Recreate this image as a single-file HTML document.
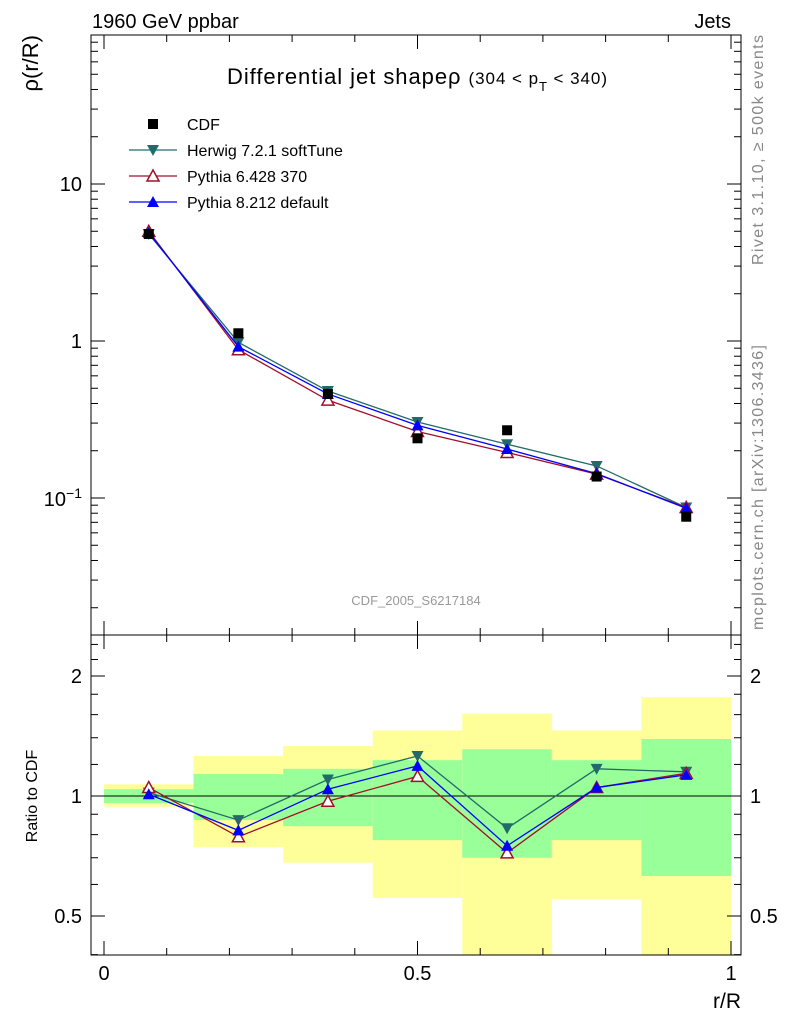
<!DOCTYPE html>
<html><head><meta charset="utf-8"><style>
body{margin:0;background:#fff}
svg text{font-family:"Liberation Sans",sans-serif}
</style></head><body>
<svg id="c" width="786" height="1024" xmlns="http://www.w3.org/2000/svg"></svg>
<script>
const xCenters=[0.0714,0.2143,0.3571,0.5,0.6429,0.7857,0.9286];
const cdf=[4.8,1.12,0.46,0.24,0.27,0.137,0.076];
const herwig=[4.8,0.98,0.48,0.305,0.22,0.16,0.087];
const py6=[5.0,0.88,0.42,0.265,0.195,0.142,0.087];
const py8=[4.9,0.92,0.46,0.29,0.205,0.143,0.086];
const rHerwig=[1.02,0.87,1.10,1.26,0.83,1.17,1.15];
const rPy6=[1.05,0.79,0.97,1.12,0.72,1.05,1.14];
const rPy8=[1.01,0.82,1.04,1.19,0.75,1.05,1.13];
const yelLo=[0.94,0.745,0.68,0.555,0.35,0.55,0.35];
const yelHi=[1.07,1.26,1.335,1.46,1.61,1.46,1.77];
const grnLo=[0.96,0.87,0.84,0.775,0.70,0.775,0.63];
const grnHi=[1.04,1.135,1.17,1.23,1.31,1.23,1.39];
const binEdges=[0,1/7,2/7,3/7,4/7,5/7,6/7,1];
const xTicks=[0,0.5,1];

const S=document.getElementById('c'),NS='http://www.w3.org/2000/svg';
function el(t,a,txt){const e=document.createElementNS(NS,t);for(const k in a)e.setAttribute(k,a[k]);if(txt!==undefined)e.textContent=txt;S.appendChild(e);return e;}
const X=v=>104+v*627;
const Y=v=>184-(Math.log10(v)-1)*157;
const R=v=>{const y=796-Math.log2(v)*120;return Math.max(636,Math.min(955,y));};
const L=91,Rr=741,T=35,M=635,B=955;

for(let i=0;i<7;i++){
 let e=el('rect',{x:X(binEdges[i]),y:R(yelHi[i]),width:X(binEdges[i+1])-X(binEdges[i]),height:R(yelLo[i])-R(yelHi[i]),fill:'#ffff99'});
 
 e=el('rect',{x:X(binEdges[i]),y:R(grnHi[i]),width:X(binEdges[i+1])-X(binEdges[i]),height:R(grnLo[i])-R(grnHi[i]),fill:'#99ff99'});
 
}
el('line',{x1:L,x2:Rr,y1:R(1),y2:R(1),stroke:'#000','stroke-width':1});

let f=el('rect',{x:L,y:T,width:Rr-L,height:M-T,fill:'none',stroke:'#000'});

f=el('rect',{x:L,y:M,width:Rr-L,height:B-M,fill:'none',stroke:'#000'});


for(let d=-2;d<=1;d++)for(let m=1;m<10;m++){const v=m*Math.pow(10,d);const y=Y(v);if(y<T||y>M)continue;const len=m==1?14:7;
 el('line',{x1:L,x2:L+len,y1:y,y2:y,stroke:'#000'});el('line',{x1:Rr,x2:Rr-len,y1:y,y2:y,stroke:'#000'});}
for(const v of [0.4,0.5,0.6,0.7,0.8,0.9,1,2,1.2,1.4,1.6,1.8,2.2,2.4]){const y=R(v);if(y<=636||y>=955)continue;const len=[0.5,1,2].includes(v)?14:7;
 el('line',{x1:L,x2:L+len,y1:y,y2:y,stroke:'#000'});el('line',{x1:Rr,x2:Rr-len,y1:y,y2:y,stroke:'#000'});}
for(let i=0;i<=10;i++){const v=i/10,x=X(v),len=i%5==0?14:7;
 el('line',{x1:x,x2:x,y1:M,y2:M+len,stroke:'#000'});el('line',{x1:x,x2:x,y1:M,y2:M-len,stroke:'#000'});
 el('line',{x1:x,x2:x,y1:B,y2:B-len,stroke:'#000'});el('line',{x1:x,x2:x,y1:T,y2:T+len,stroke:'#000'});}
for(const v of xTicks){const t=el('text',{x:X(v),y:980,'font-size':20,'text-anchor':'middle'},String(v));}

el('text',{x:82,y:191,'font-size':20,'text-anchor':'end'},'10');
el('text',{x:82,y:348,'font-size':20,'text-anchor':'end'},'1');
let t=el('text',{x:82,y:506,'font-size':20,'text-anchor':'end'});t.innerHTML='10<tspan dy="-8" font-size="14">−1</tspan>';
for(const [v,s] of [[2,'2'],[1,'1'],[0.5,'0.5']]){el('text',{x:82,y:R(v)+7,'font-size':20,'text-anchor':'end'},s);el('text',{x:750,y:R(v)+7,'font-size':20},s);}

t=el('text',{x:92,y:28,'font-size':20},'1960 GeV ppbar');
el('text',{x:731,y:28,'font-size':20,'text-anchor':'end'},'Jets');
t=el('text',{transform:'translate(38,35) rotate(-90)','font-size':22,'text-anchor':'end'},'ρ(r/R)');
t=el('text',{transform:'translate(37,796) rotate(-90)','font-size':16,'text-anchor':'middle'},'Ratio to CDF');
t=el('text',{x:741,y:1008,'font-size':21,'text-anchor':'end'},'r/R');
t=el('text',{x:227,y:84,'font-size':22,textLength:380});t.innerHTML='Differential jet shapeρ <tspan font-size="17">(304 &lt; p</tspan><tspan font-size="13" dy="7">T</tspan><tspan font-size="17" dy="-7"> &lt; 340)</tspan>';

el('text',{transform:'translate(763,265) rotate(-90)','font-size':16,fill:'#888',textLength:230},'Rivet 3.1.10, ≥ 500k events');
el('text',{transform:'translate(763,630) rotate(-90)','font-size':16,fill:'#888',textLength:285},'mcplots.cern.ch [arXiv:1306.3436]');
el('text',{x:416,y:605,'font-size':13,fill:'#999','text-anchor':'middle'},'CDF_2005_S6217184');

function marker(kind,x,y,col){
 if(kind=='sq')return el('rect',{x:x-5,y:y-5,width:10,height:10,fill:'#000'});
 if(kind=='down')return el('polygon',{points:`${x-6},${y-5} ${x+6},${y-5} ${x},${y+6}`,fill:col});
 if(kind=='up')return el('polygon',{points:`${x-6},${y+5} ${x+6},${y+5} ${x},${y-6}`,fill:col});
 if(kind=='open')return el('polygon',{points:`${x-6},${y+5} ${x+6},${y+5} ${x},${y-6}`,fill:'#fff',stroke:col,'stroke-width':1.5});
}
function series(vals,fy,col,kind,name){
 el('polyline',{points:vals.map((v,i)=>X(xCenters[i])+','+fy(v)).join(' '),fill:'none',stroke:col,'stroke-width':1.3});
 vals.forEach((v,i)=>{const m=marker(kind,X(xCenters[i]),fy(v),col);});
}
series(herwig,Y,'#236b6b','down','herwig-point');
series(py6,Y,'#a0102a','open','pythia6-point');
series(py8,Y,'#0000ff','up','pythia8-point');
cdf.forEach((v,i)=>{const m=marker('sq',X(xCenters[i]),Y(v));});
series(rHerwig,R,'#236b6b','down','herwig-ratio-point');
series(rPy6,R,'#a0102a','open','pythia6-ratio-point');
series(rPy8,R,'#0000ff','up','pythia8-ratio-point');

const leg=[['CDF','sq','#000'],['Herwig 7.2.1 softTune','down','#236b6b'],['Pythia 6.428 370','open','#a0102a'],['Pythia 8.212 default','up','#0000ff']];
leg.forEach((l,i)=>{const y=124+i*26;
 if(l[1]!='sq')el('line',{x1:129,x2:177,y1:y,y2:y,stroke:l[2],'stroke-width':1.3});
 marker(l[1],153,y,l[2]);
 const tx=el('text',{x:187,y:y+6,'font-size':16},l[0]);});
</script>
</body></html>
